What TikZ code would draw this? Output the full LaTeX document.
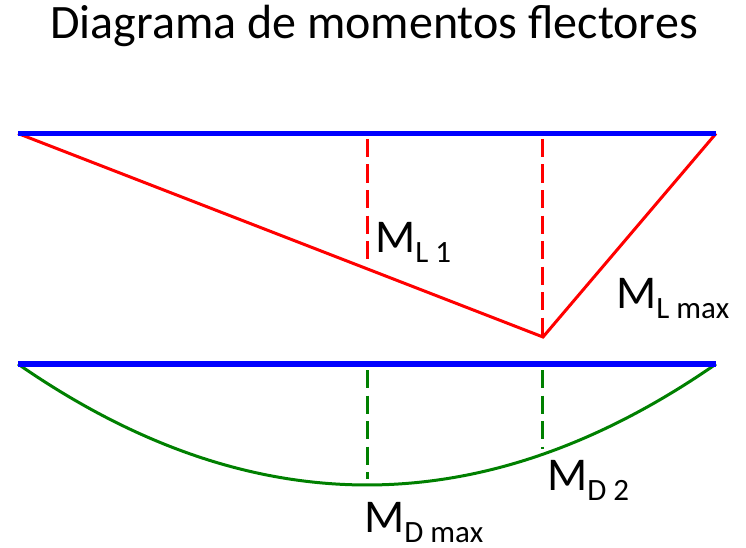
\documentclass[tikz,border=0pt]{standalone}
\usepackage{fontspec}
\setmainfont{Carlito}
\definecolor{beamblue}{RGB}{0,0,255}
\definecolor{mred}{RGB}{255,0,0}
\definecolor{mgreen}{RGB}{0,128,0}
\newcommand{\msub}[1]{M\lower10pt\hbox{\fontsize{31}{32}\selectfont #1}}
\begin{document}
\begin{tikzpicture}[x=1pt,y=-1pt,
  beam/.style={draw=beamblue,line width=5.5pt},
  redline/.style={draw=mred,line width=3pt,line join=miter},
  greenline/.style={draw=mgreen,line width=3pt},
  reddash/.style={draw=mred,line width=3pt,dash pattern=on 18pt off 7.5pt},
  greendash/.style={draw=mgreen,line width=3pt,dash pattern=on 18pt off 7.5pt},
  lbl/.style={anchor=base west,inner sep=0pt,font=\fontsize{47}{52}\selectfont}]
\useasboundingbox (0,0) rectangle (746,548);
\node[anchor=base,inner sep=0pt,font=\fontsize{48}{54}\selectfont] (title) at (374,39) {Diagrama de momentos flectores};
% top diagram
\coordinate (A1) at (18,133.5);
\coordinate (B1) at (716,133.5);
\coordinate (P) at (543,337);
\coordinate (D1t) at (367,139);
\coordinate (D1b) at (367,266);
\coordinate (D2t) at (542,139);
\coordinate (D2b) at (542,335);
\draw[redline] (A1) -- (P) -- (B1);
\draw[beam] (A1) -- (B1);
\draw[reddash] (D1t) -- (D1b);
\draw[reddash] (D2t) -- (D2b);
\node[lbl] (ml1) at (375,252) {\msub{L 1}};
\node[lbl] (mlmax) at (616,308) {\msub{L max}};
% bottom diagram
\coordinate (A2) at (18,364);
\coordinate (B2) at (716,364);
\coordinate (E1t) at (367,370);
\coordinate (E1b) at (367,479);
\coordinate (E2t) at (542,370);
\coordinate (E2b) at (542,449);
\draw[greenline] (A2) .. controls (250.7,525.3) and (483.3,525.3) .. (B2);
\draw[beam] (A2) -- (B2);
\draw[greendash] (E1t) -- (E1b);
\draw[greendash] (E2t) -- (E2b);
\node[lbl] (md2) at (547,490) {\msub{D 2}};
\node[lbl] (mdmax) at (364,532) {\msub{D max}};
\end{tikzpicture}
\end{document}
